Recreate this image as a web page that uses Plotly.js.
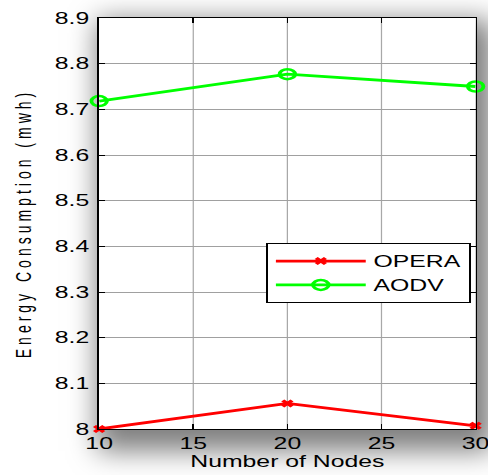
<!DOCTYPE html>
<html><head><meta charset="utf-8">
<script src="https://cdn.plot.ly/plotly-3.0.1.min.js"></script>
<style>
html,body{margin:0;padding:0;background:#fff;}
#wrap{position:relative;width:488px;height:475px;overflow:hidden;background:#fff;}
#shadow{position:absolute;left:99px;top:18px;width:376px;height:411px;box-shadow:8px 12px 26px 10px rgba(0,0,0,0.5);}
#chart{position:absolute;left:0;top:0;width:315px;height:475px;transform:scaleX(1.5492);transform-origin:0 0;}
.ytitle{letter-spacing:4px;}
</style>
</head><body>
<div id="wrap"><div id="shadow"></div><div id="chart"></div></div>
<script>
const nodes = [10, 20, 30];
const opera = [8.0, 8.056, 8.007];
const aodv = [8.718, 8.777, 8.75];
const xTicks = [10, 15, 20, 25, 30];
const yTicks = [8, 8.1, 8.2, 8.3, 8.4, 8.5, 8.6, 8.7, 8.8, 8.9];
const yTickText = ['8', '8.1', '8.2', '8.3', '8.4', '8.5', '8.6', '8.7', '8.8', '8.9'];

const traces = [
  {x: nodes, y: opera, name: 'OPERA', mode: 'lines+markers', cliponaxis: false,
   line: {color: '#ff0000', width: 2.8},
   marker: {symbol: 'x-thin', size: 6, line: {color: '#ff0000', width: 2.8}, color: '#ff0000'}},
  {x: nodes, y: aodv, name: 'AODV', mode: 'lines+markers', cliponaxis: false,
   line: {color: '#00ff00', width: 2.8},
   marker: {symbol: 'circle-open', size: 10, line: {color: '#00ff00', width: 2.5}, color: '#00ff00'}}
];

const fontFam = 'Liberation Sans, Arial, sans-serif';
const layout = {
  width: 315, height: 475,
  margin: {l: 63.9, r: 8.4, t: 18, b: 46, pad: 0},
  paper_bgcolor: 'rgba(0,0,0,0)',
  plot_bgcolor: '#ffffff',
  font: {family: fontFam, color: '#000'},
  showlegend: true,
  legend: {x: 0.444, y: 0.4526, xanchor: 'left', yanchor: 'top',
    bgcolor: '#ffffff', bordercolor: '#000', borderwidth: 1.2,
    font: {size: 16, family: fontFam}, itemwidth: 58, tracegroupgap: 0},
  xaxis: {range: [10, 30], tickvals: xTicks, ticktext: xTicks.map(String),
    showgrid: true, gridcolor: '#a8a8a8', gridwidth: 0.8,
    showline: true, linecolor: '#000', linewidth: 1.2, mirror: 'ticks',
    ticks: 'inside', ticklen: 5, tickcolor: '#000', ticklabeloverflow: 'allow',
    tickfont: {size: 16, family: fontFam}, zeroline: false,
    title: {text: 'Number of Nodes', font: {size: 16, family: fontFam}, standoff: 4}},
  yaxis: {range: [8, 8.9], tickvals: yTicks, ticktext: yTickText,
    showgrid: true, gridcolor: '#a0a0a0', gridwidth: 1,
    showline: true, linecolor: '#000', linewidth: 1.2, mirror: 'ticks',
    ticks: 'inside', ticklen: 3.5, tickcolor: '#000', ticklabelstandoff: 2,
    ticklabeloverflow: 'allow',
    tickfont: {size: 16, family: fontFam}, zeroline: false,
    title: {text: 'Energy Consumption (mwh)', font: {size: 14, family: fontFam}, standoff: 11}}
};

Plotly.newPlot('chart', traces, layout, {displayModeBar: false, staticPlot: true});
</script>
</body></html>
